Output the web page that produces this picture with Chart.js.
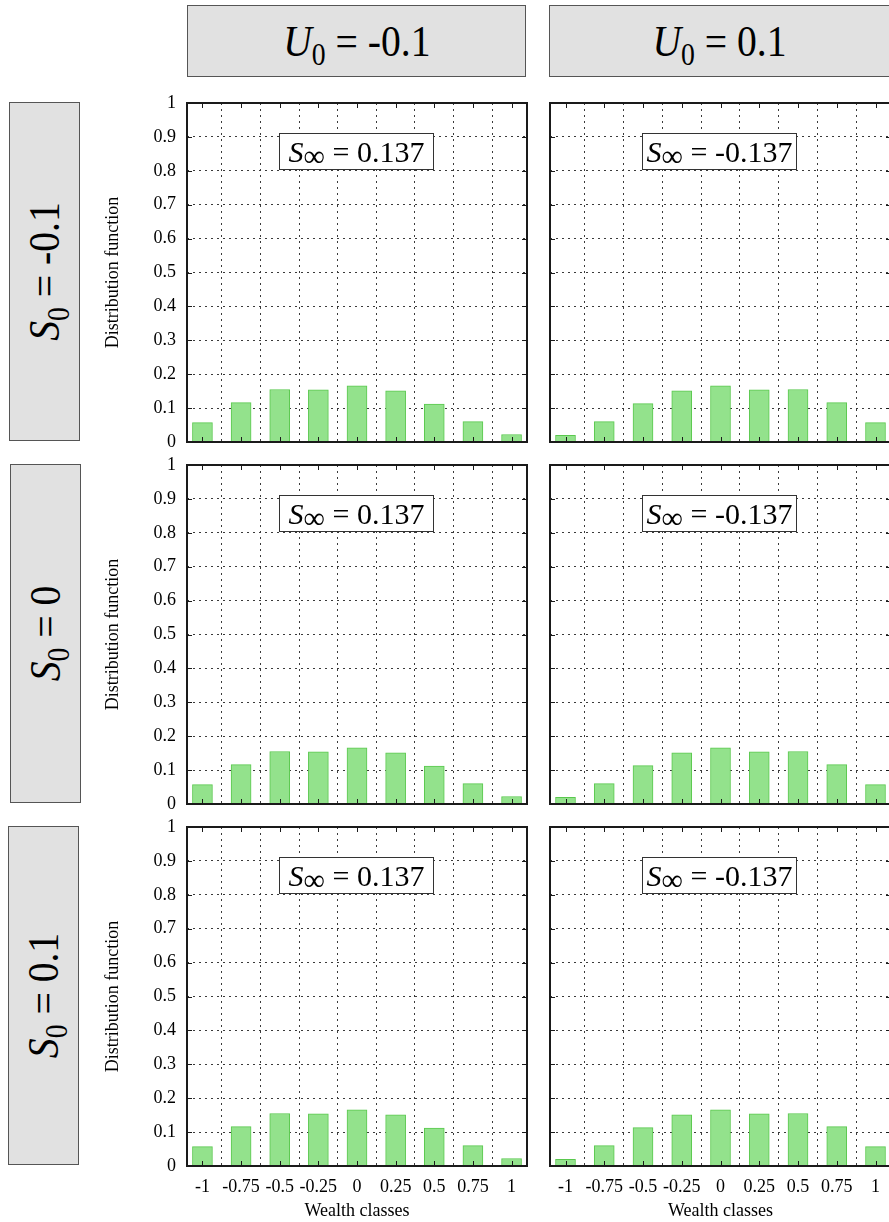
<!DOCTYPE html>
<html>
<head>
<meta charset="utf-8">
<script src="https://cdn.jsdelivr.net/npm/chart.js@4.4.0/dist/chart.umd.min.js"></script>
<style>
  html, body { margin: 0; padding: 0; background: #fff; }
  body { position: relative; width: 889px; height: 1222px; overflow: hidden; font-family: 'Liberation Serif', 'Times New Roman', serif; color: #000; }
  .holder { position: absolute; }
  .box { position: absolute; background: #e1e1e1; border: 1px solid #555; box-sizing: border-box; display: flex; align-items: center; justify-content: center; }
  .box span { display: inline-block; white-space: nowrap; font-size: 44px; transform: scaleX(0.9); }
  .box.side span { transform: rotate(-90deg) scaleX(0.9); }
  .box sub { font-size: 0.7em; vertical-align: -0.3em; line-height: 0; }
  .note { position: absolute; background: #fff; border: 1px solid #333; box-sizing: border-box; font-size: 30px; line-height: 35px; text-align: center; white-space: nowrap; }
  .note sub { font-size: 1em; vertical-align: -0.12em; line-height: 0; }
</style>
</head>
<body>
<script>
// wealth classes and tick values
const xClasses = [-1, -0.75, -0.5, -0.25, 0, 0.25, 0.5, 0.75, 1];
const yTicks = [0, 0.1, 0.2, 0.3, 0.4, 0.5, 0.6, 0.7, 0.8, 0.9, 1];

// distribution values (same in every row)
const distU0Neg = [0.057, 0.116, 0.155, 0.154, 0.166, 0.151, 0.112, 0.060, 0.022];
const distU0Pos = [0.020, 0.060, 0.113, 0.151, 0.166, 0.154, 0.155, 0.116, 0.057];

const colLabels = ['-0.1', '0.1'];
const rowLabels = ['-0.1', '0', '0.1'];
const sInfinity = ['0.137', '-0.137'];

const colSeries = [distU0Neg, distU0Pos];

// layout
const rowTop = [103, 465, 827];
const plotH = 339;
const cols = [
    { left: 95, width: 445, yWidth: 92, padRight: 13, noteLeft: 279, headLeft: 187, headW: 339 },
    { left: 540, width: 352, yWidth: 10, padRight: 1, noteLeft: 642, headLeft: 549, headW: 341 }
];
const sideBoxes = [{ left: 9, top: 102 }, { left: 10, top: 464 }, { left: 8, top: 826 }];

const serif = 'Liberation Serif';
const gridColor = '#3a3a3a';

const framePlugin = {
    id: 'frame',
    afterDatasetsDraw(chart) {
        const { ctx, chartArea: a, scales: { x, y } } = chart;
        ctx.save();
        ctx.strokeStyle = '#1a1a1a';
        ctx.lineWidth = 1;
        ctx.beginPath();
        yTicks.forEach(v => {
            const py = Math.round(y.getPixelForValue(v)) + 0.5;
            ctx.moveTo(a.left, py); ctx.lineTo(a.left + 5, py);
            ctx.moveTo(a.right, py); ctx.lineTo(a.right - 5, py);
        });
        xClasses.forEach(v => {
            const px = Math.round(x.getPixelForValue(v)) + 0.5;
            ctx.moveTo(px, a.top); ctx.lineTo(px, a.top + 5);
            ctx.moveTo(px, a.bottom); ctx.lineTo(px, a.bottom - 5);
        });
        ctx.stroke();
        ctx.lineWidth = 2;
        ctx.strokeRect(a.left, a.top, a.right - a.left, a.bottom - a.top);
        ctx.restore();
    }
};

function addBox(cls, left, top, w, h, html) {
    const d = document.createElement('div');
    d.className = cls;
    Object.assign(d.style, { left: left + 'px', top: top + 'px', width: w + 'px', height: h + 'px' });
    d.innerHTML = html;
    document.body.appendChild(d);
}

// column headers
cols.forEach((c, ci) => {
    addBox('box', c.headLeft, 5, c.headW, 72, `<span><i>U</i><sub>0</sub> = ${colLabels[ci]}</span>`);
});

// row headers
rowLabels.forEach((r, ri) => {
    addBox('box side', sideBoxes[ri].left, sideBoxes[ri].top, 71, 339, `<span><i>S</i><sub>0</sub> = ${r}</span>`);
});

rowLabels.forEach((r, ri) => {
    const bottomRow = ri === rowLabels.length - 1;
    cols.forEach((c, ci) => {
        const leftCol = ci === 0;
        const xH = bottomRow ? 57 : 12;
        const h = 12 + plotH + xH;
        const holder = document.createElement('div');
        holder.className = 'holder';
        holder.style.left = c.left + 'px';
        holder.style.top = (rowTop[ri] - 12) + 'px';
        const canvas = document.createElement('canvas');
        canvas.width = c.width;
        canvas.height = h;
        holder.appendChild(canvas);
        document.body.appendChild(holder);

        const series = colSeries[ci];
        new Chart(canvas, {
            type: 'bar',
            data: {
                datasets: [{
                    data: xClasses.map((x, i) => ({ x: x, y: series[i] })),
                    backgroundColor: '#93e28c',
                    borderColor: '#5ac84e',
                    borderWidth: 1,
                    borderSkipped: 'bottom',
                    barThickness: 20
                }]
            },
            options: {
                responsive: false,
                animation: false,
                events: [],
                layout: { padding: { top: 12, right: c.padRight, left: 0, bottom: 0 } },
                plugins: { legend: { display: false }, tooltip: { enabled: false } },
                scales: {
                    x: {
                        type: 'linear',
                        min: -1.1,
                        max: 1.1,
                        offset: false,
                        afterBuildTicks: s => { s.ticks = xClasses.map(v => ({ value: v })); },
                        afterFit: s => { s.height = xH; s.paddingLeft = 0; s.paddingRight = 0; },
                        grid: { color: gridColor, lineWidth: 1, drawTicks: false },
                        border: { display: false, dash: [2, 4] },
                        ticks: {
                            display: bottomRow,
                            padding: 10,
                            autoSkip: false,
                            maxRotation: 0,
                            color: '#000',
                            font: { family: serif, size: 18 },
                            callback: v => String(v)
                        },
                        title: {
                            display: bottomRow,
                            text: 'Wealth classes',
                            color: '#000',
                            font: { family: serif, size: 18 },
                            padding: { top: 0, bottom: 1 }
                        }
                    },
                    y: {
                        min: 0,
                        max: 1,
                        afterBuildTicks: s => { s.ticks = yTicks.map(v => ({ value: v })); },
                        afterFit: s => { s.width = c.yWidth; s.paddingTop = 0; s.paddingBottom = 0; },
                        grid: { color: gridColor, lineWidth: 1, drawTicks: false },
                        border: { display: false, dash: [2, 4] },
                        ticks: {
                            display: leftCol,
                            padding: 11,
                            color: '#000',
                            font: { family: serif, size: 18 },
                            callback: v => String(v)
                        },
                        title: {
                            display: leftCol,
                            text: 'Distribution function',
                            color: '#000',
                            font: { family: serif, size: 18 },
                            padding: { top: 7, bottom: 0 }
                        }
                    }
                }
            },
            plugins: [framePlugin]
        });

        addBox('note', c.noteLeft, rowTop[ri] + 30, 155, 37,
            `<i>S</i><sub>∞</sub> = ${sInfinity[ci]}`);
    });
});
</script>
</body>
</html>
